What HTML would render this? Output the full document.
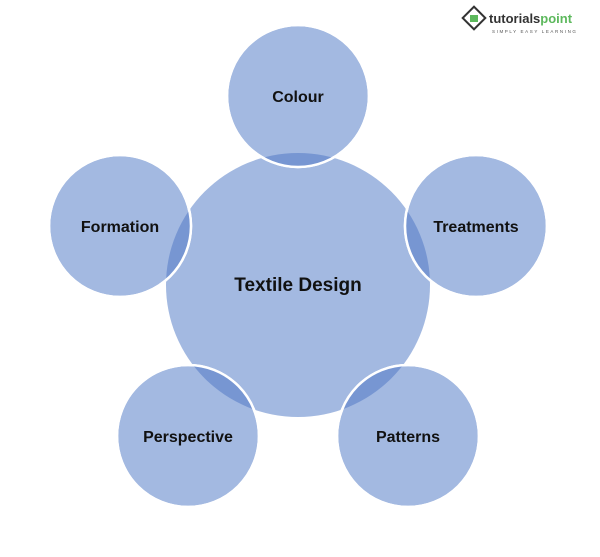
<!DOCTYPE html>
<html><head><style>body{margin:0;background:#fff}svg{display:block}</style></head><body>
<svg width="600" height="557" viewBox="0 0 600 557" xmlns="http://www.w3.org/2000/svg" font-family="Liberation Sans, sans-serif">
<defs><clipPath id="c"><circle cx="298" cy="285" r="132"/></clipPath></defs>
<circle cx="298" cy="285" r="132" fill="#a3b9e1"/>
<g fill="#a3b9e1" stroke="#fff" stroke-width="2.5">
<circle cx="298" cy="96" r="71"/>
<circle cx="120" cy="226" r="71"/>
<circle cx="476" cy="226" r="71"/>
<circle cx="188" cy="436" r="71"/>
<circle cx="408" cy="436" r="71"/>
</g>
<g fill="#7796d2" clip-path="url(#c)">
<circle cx="298" cy="96" r="71"/>
<circle cx="120" cy="226" r="71"/>
<circle cx="476" cy="226" r="71"/>
<circle cx="188" cy="436" r="71"/>
<circle cx="408" cy="436" r="71"/>
</g>
<g fill="none" stroke="#fff" stroke-width="2.5">
<circle cx="298" cy="96" r="71"/>
<circle cx="120" cy="226" r="71"/>
<circle cx="476" cy="226" r="71"/>
<circle cx="188" cy="436" r="71"/>
<circle cx="408" cy="436" r="71"/>
</g>
<g font-weight="bold" fill="#111" text-anchor="middle" font-size="16">
<text x="298" y="102">Colour</text>
<text x="120" y="232">Formation</text>
<text x="476" y="232">Treatments</text>
<text x="188" y="442">Perspective</text>
<text x="408" y="442">Patterns</text>
<text x="298" y="291" font-size="19">Textile Design</text>
</g>
<g transform="translate(462,6)">
<rect x="4" y="4" width="16" height="16" transform="rotate(45 12 12)" fill="#fff" stroke="#333" stroke-width="2"/>
<rect x="8" y="9" width="8" height="7" fill="#5cb85c"/>
<text x="27" y="17" font-size="13" font-weight="bold" fill="#333">tutorials<tspan fill="#5cb85c">point</tspan></text>
<text x="30" y="27" font-size="4.5" fill="#555" letter-spacing="1.6">SIMPLY EASY LEARNING</text>
</g>
</svg>
</body></html>
